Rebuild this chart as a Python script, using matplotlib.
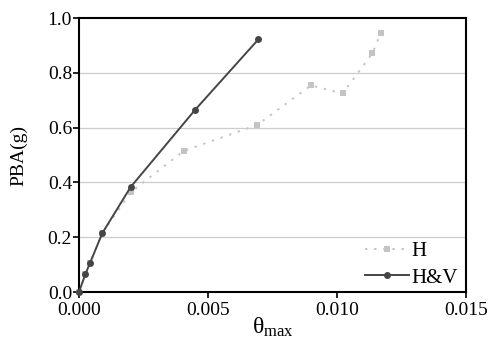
import matplotlib
matplotlib.use("Agg")
import matplotlib.pyplot as plt

plt.rcParams['font.family'] = ['Liberation Serif', 'DejaVu Serif']
plt.rcParams['mathtext.fontset'] = 'custom'
plt.rcParams['mathtext.rm'] = 'Liberation Serif'
plt.rcParams['mathtext.it'] = 'Liberation Serif'

h_theta = [0.0, 0.00025, 0.00043, 0.0009, 0.0020, 0.00406, 0.00691, 0.00899, 0.01022, 0.01137, 0.01169]
h_pba = [0.0, 0.065, 0.106, 0.214, 0.364, 0.515, 0.610, 0.754, 0.725, 0.871, 0.944]

hv_theta = [0.0, 0.000245, 0.000426, 0.000904, 0.0020, 0.0045, 0.00695]
hv_pba = [0.0, 0.065, 0.106, 0.215, 0.383, 0.665, 0.922]

xticks = [0.0, 0.005, 0.010, 0.015]
xticklabels = ["0.000", "0.005", "0.010", "0.015"]
yticks = [0.0, 0.2, 0.4, 0.6, 0.8, 1.0]
yticklabels = ["0.0", "0.2", "0.4", "0.6", "0.8", "1.0"]

fig = plt.figure(figsize=(4.89, 3.47), dpi=100)
ax = fig.add_axes([0.1616, 0.1585, 0.7914, 0.7895])

for y in yticks[1:-1]:
    ax.axhline(y, color='#cccccc', lw=0.9, zorder=0)

ax.plot(h_theta, h_pba, linestyle=(0, (1.2, 3.5)), color='#c4c4c4', lw=1.4,
        marker='s', markersize=5, markeredgewidth=0, label='H', zorder=2, clip_on=False)
ax.plot(hv_theta, hv_pba, linestyle='-', color='#454545', lw=1.4,
        marker='o', markersize=5, markeredgewidth=0, label='H&V', zorder=3, clip_on=False)

ax.set_xlim(0, 0.015)
ax.set_ylim(0, 1.0)
ax.set_xticks(xticks)
ax.set_xticklabels(xticklabels)
ax.set_yticks(yticks)
ax.set_yticklabels(yticklabels)
ax.tick_params(axis='both', direction='out', length=4, width=1.2, labelsize=14)
ax.tick_params(axis='y', pad=1)
ax.tick_params(axis='x', pad=3)
for s in ax.spines.values():
    s.set_linewidth(1.5)

ax.set_xlabel(r'$\mathrm{\theta_{max}}$', fontsize=17)
ax.xaxis.set_label_coords(0.5, -0.085)
ax.set_ylabel('PBA(g)', fontsize=14)
ax.yaxis.set_label_coords(-0.134, 0.5)

leg = ax.legend(loc='lower right', bbox_to_anchor=(1.0, -0.015), frameon=False,
                fontsize=15, handlelength=2.1, handletextpad=0.1,
                labelspacing=0.35, borderaxespad=0.0)

fig.savefig('out.png', dpi=100)
